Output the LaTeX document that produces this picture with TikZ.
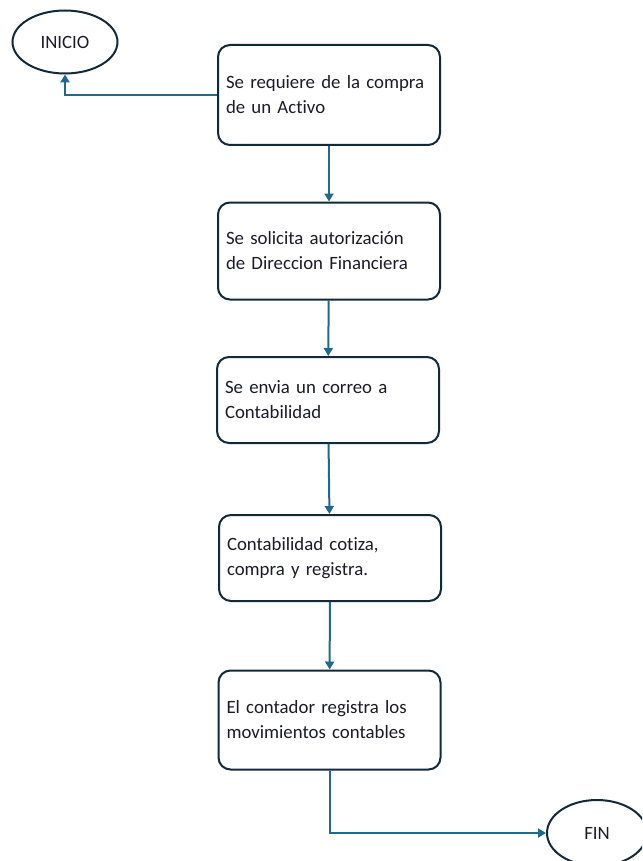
\documentclass[tikz,border=0pt]{standalone}
\usepackage{fontspec}
\setmainfont{Carlito}[Ligatures=NoCommon]
\usetikzlibrary{arrows.meta,positioning,shapes.geometric}
\definecolor{edgeblue}{HTML}{1F6A8C}
\definecolor{boxline}{HTML}{12293A}
\definecolor{inktext}{HTML}{1B1B2A}
\tikzset{stepbox/.style={rounded corners=12, draw=boxline, line width=2pt, fill=white, text=inktext, text width=206pt, align=left, inner sep=8pt, font=\fontsize{18.8}{25}\selectfont}}
\tikzset{term/.style={ellipse, draw=boxline, line width=2pt, fill=white, text=inktext, inner sep=0pt, font=\fontsize{18.8}{20}\selectfont}}
\tikzset{arr/.style={draw=edgeblue, line width=2pt, -{Triangle[width=9pt,length=8pt]}}}

\begin{document}
\begin{tikzpicture}[x=1pt,y=-1pt]
        \clip (0,0) rectangle (642,861);
        \fill[white] (0,0) rectangle (642,861);

        \node[term, minimum width=105pt, minimum height=63pt] (inicio) at (65,42){INICIO};
        \node[stepbox, minimum height=100pt] (req) at (329,95){Se requiere de la compra\\de un Activo};
        \node[stepbox, minimum height=97pt] (aut) at (329,251){Se solicita autorización\\de Direccion Financiera};
        \node[stepbox, minimum height=86pt] (correo) at (328,400){Se envia un correo a\\Contabilidad};
        \node[stepbox, minimum height=86pt] (cotiza) at (330,558){Contabilidad cotiza,\\compra y registra.};
        \node[stepbox, minimum height=99pt] (registro) at (329.5,720){El contador registra los\\movimientos contables\\[4pt]};
        \node[term, minimum width=100pt, minimum height=66pt] (fin) at (597,833){FIN};

        \begin{scope}[arr]
            \draw (req.west) -| (inicio.south);
            \draw (req) -- (aut);
            \draw (aut) -- (correo);
            \draw (correo) -- (cotiza);
            \draw (cotiza) -- (registro);
            \draw (registro.south) |- (fin.west);
        \end{scope}
    \end{tikzpicture}
\end{document}
